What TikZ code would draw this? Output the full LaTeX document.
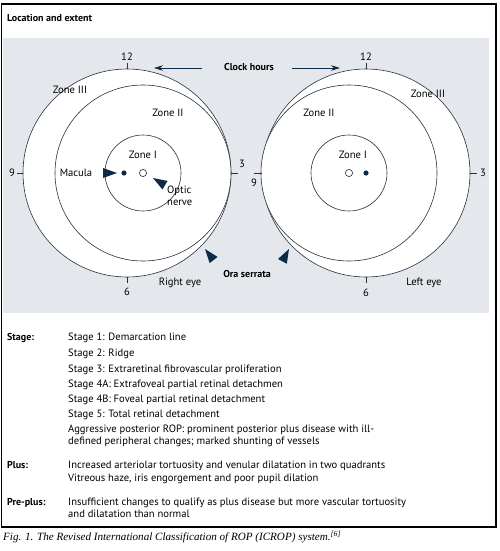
\documentclass[tikz,border=0pt]{standalone}
\usepackage{fontspec}
\setmainfont{Liberation Serif}
\setsansfont{PT Sans}
\usetikzlibrary{arrows.meta,positioning}
\definecolor{panelgray}{HTML}{E4E7EC}
\definecolor{navy}{HTML}{0D2B47}
\definecolor{rim}{HTML}{27313C}
\tikzset{
  lbl/.style={font=\sffamily\fontsize{10.6}{12}\selectfont, inner sep=0pt},
  bold lbl/.style={font=\sffamily\bfseries\fontsize{10}{12}\selectfont, inner sep=0pt},
  rimline/.style={draw=rim, line width=0.6pt},
  eye/.style={rimline, fill=white},
}
\newcommand{\pointer}[2]{\fill[navy, shift={(#1)}, rotate=#2] (0,0) -- (-14,5) -- (-14,-5) -- cycle;}
\begin{document}
\begin{tikzpicture}[x=1pt, y=-1pt, >={Stealth[length=9pt,width=5.5pt]}]
 \useasboundingbox (0,0) rectangle (499,551);
 \fill[panelgray] (3,38) rectangle (489,313);
 \draw[line width=1.4pt] (1.5,4) rectangle (496,527);
 \node[bold lbl, anchor=base west] (title) at (7,22) {Location and extent};
 % right eye
 \coordinate (rc) at (127,173);
 \coordinate (ro) at (143,173);
 \coordinate (rm) at (124,173);
 \draw[eye] (rc) circle[radius=104];
 \draw[eye] (ro) circle[radius=88];
 \draw[rimline] (ro) circle[radius=38];
 \draw[rimline] (rc) ++(0,-104) -- ++(0,-6);
 \draw[rimline] (rc) ++(0,104) -- ++(0,6);
 \draw[rimline] (rc) ++(-104,0) -- ++(-6,0);
 \draw[rimline] (rc) ++(104,0) -- ++(7,0);
 \fill[navy] (rm) circle[radius=2.6];
 \draw[rimline, fill=white] (ro) circle[radius=3.6];
 \node[lbl] (r12) at (127,57) {12};
 \node[lbl] (r6) at (127,292) {6};
 \node[lbl] (r9) at (12,173) {9};
 \node[lbl] (r3) at (242,164) {3};
 \node[lbl] (rz3) at (70,90) {Zone III};
 \node[lbl] (rz2) at (168,113) {Zone II};
 \node[lbl] (rz1) at (143,155) {Zone I};
 \node[lbl] (macula) at (76,173) {Macula};
 \node[lbl, align=left, anchor=north west] (optic) at (167,186) {Optic\\nerve};
 \node[lbl] (reye) at (180,283) {Right eye};
 \pointer{117,173}{0}
 \pointer{153,178}{149}
 % left eye
 \coordinate (lc) at (366,173);
 \coordinate (lo) at (349,173);
 \coordinate (lm) at (366,173);
 \draw[eye] (lc) circle[radius=104];
 \draw[eye] (lo) circle[radius=88];
 \draw[rimline] (lo) circle[radius=38];
 \draw[rimline] (lc) ++(0,-104) -- ++(0,-6);
 \draw[rimline] (lc) ++(0,104) -- ++(0,6);
 \draw[rimline] (lc) ++(-104,0) -- ++(-8,0);
 \draw[rimline] (lc) ++(104,0) -- ++(7,0);
 \fill[navy] (lm) circle[radius=2.6];
 \draw[rimline, fill=white] (lo) circle[radius=3.6];
 \node[lbl] (l12) at (366,57) {12};
 \node[lbl] (l6) at (366,293) {6};
 \node[lbl] (l9) at (254,183) {9};
 \node[lbl] (l3) at (483,173) {3};
 \node[lbl] (lz3) at (428,94) {Zone III};
 \node[lbl] (lz2) at (319,113) {Zone II};
 \node[lbl] (lz1) at (353,155) {Zone I};
 \node[lbl] (leye) at (424,283) {Left eye};
 % shared labels
 \node[bold lbl] (clock) at (249,67) {Clock hours};
 \coordinate (clockl) at (154,68);
 \coordinate (clockr) at (340,68);
 \draw[->, navy, line width=0.8pt] (clock.west) ++(-22,1) -- (clockl);
 \draw[->, navy, line width=0.8pt] (clock.east) ++(18,1) -- (clockr);
 \node[bold lbl] (ora) at (247,274) {Ora serrata};
 \pointer{205,249}{128}
 \pointer{289,249}{62}
 % classification
 \node[bold lbl, anchor=base west] (stage) at (7,340) {Stage:};
 \foreach \y/\txt [count=\i] in {340/{Stage 1: Demarcation line}, 356/{Stage 2: Ridge},
   372/{Stage 3: Extraretinal fibrovascular proliferation},
   387/{Stage 4A: Extrafoveal partial retinal detachmen},
   402/{Stage 4B: Foveal partial retinal detachment},
   417/{Stage 5: Total retinal detachment},
   432/{Aggressive posterior ROP: prominent posterior plus disease with ill-},
   444/{defined peripheral changes; marked shunting of vessels}}
   \node[lbl, anchor=base west] (stage\i) at (68,\y) {\txt};
 \node[bold lbl, anchor=base west] (plus) at (7,468) {Plus:};
 \node[lbl, anchor=base west] (plus1) at (68,468) {Increased arteriolar tortuosity and venular dilatation in two quadrants};
 \node[lbl, anchor=base west] (plus2) at (68,481) {Vitreous haze, iris engorgement and poor pupil dilation};
 \node[bold lbl, anchor=base west] (preplus) at (7,505) {Pre-plus:};
 \node[lbl, anchor=base west] (preplus1) at (68,505) {Insufficient changes to qualify as plus disease but more vascular tortuosity};
 \node[lbl, anchor=base west] (preplus2) at (68,517) {and dilatation than normal};
 \node[anchor=base west, inner sep=0pt, font=\itshape\fontsize{11.1}{13}\selectfont] (caption) at (3,540)
   {Fig. 1. The Revised International Classification of ROP (ICROP) system.\textsuperscript{[6]}};
\end{tikzpicture}
\end{document}
